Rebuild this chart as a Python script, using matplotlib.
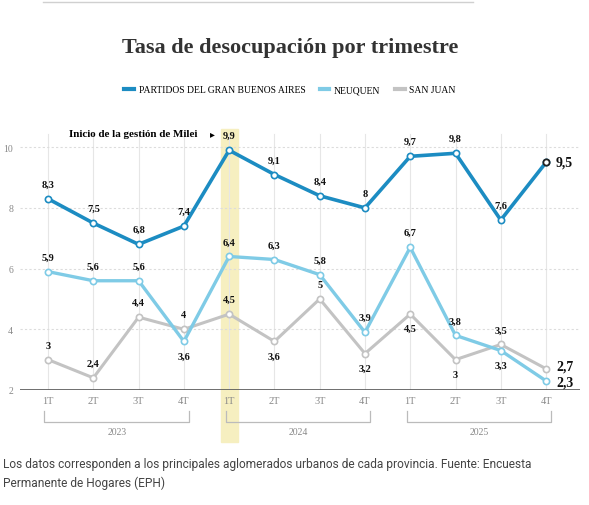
import matplotlib
matplotlib.use("Agg")
import matplotlib.pyplot as plt
from matplotlib.patches import Rectangle

# Data
quarters = ["1T", "2T", "3T", "4T"] * 3
years = ["2023", "2024", "2025"]
gba = [8.3, 7.5, 6.8, 7.4, 9.9, 9.1, 8.4, 8.0, 9.7, 9.8, 7.6, 9.5]
neuquen = [5.9, 5.6, 5.6, 3.6, 6.4, 6.3, 5.8, 3.9, 6.7, 3.8, 3.3, 2.3]
sanjuan = [3.0, 2.4, 4.4, 4.0, 4.5, 3.6, 5.0, 3.2, 4.5, 3.0, 3.5, 2.7]

# label placement: 1 above, -1 below
nq_pos = [1, 1, 1, -1, 1, 1, 1, 1, 1, 1, -1, 1]
sj_pos = [1, 1, 1, 1, 1, -1, 1, -1, -1, -1, 1, 1]

c_gba = "#1c8cc2"
c_nq = "#7fcbe6"
c_sj = "#c3c3c3"
serif = ["Liberation Serif", "DejaVu Serif"]


def fmt(v):
    s = ("%.1f" % v).replace(".", ",")
    return s[:-2] if s.endswith(",0") else s


fig = plt.figure(figsize=(5.89, 5.06), dpi=100)
W, H = 589, 506
ax = fig.add_axes([20 / W, 115 / H, 560 / W, 261 / H])
x = list(range(len(gba)))

ax.set_xlim(-0.62, 11.75)
ax.set_ylim(2, 10.6)

# highlight band for 1T 2024
ax.add_patch(Rectangle((3.81, 0.29), 0.38, 10.3, color="#f6efc0", zorder=0, clip_on=False))

for xi in x:
    ax.plot([xi, xi], [2, 10.45], color="#e6e6e6", lw=0.8, zorder=1)
for yv in [4, 6, 8, 10]:
    ax.plot([-0.62, 11.75], [yv, yv], color="#dcdcdc", lw=0.8, ls=(0, (2, 2)), zorder=1)

ax.plot(x, sanjuan, color=c_sj, lw=2.2, marker="o", ms=4.5, mfc="white", mec=c_sj, mew=1.2, zorder=3)
ax.plot(x, neuquen, color=c_nq, lw=2.4, marker="o", ms=4.5, mfc="white", mec=c_nq, mew=1.2, zorder=4)
ax.plot(x, gba, color=c_gba, lw=2.6, marker="o", ms=4.5, mfc="white", mec=c_gba, mew=1.2, zorder=5)
ax.plot(x[-1], gba[-1], marker="o", ms=4.5, mfc="white", mec="#222222", mew=1.3, zorder=6)

lab = dict(fontsize=7.5, fontweight="bold", family=serif, color="#111111", ha="center", zorder=7)
off = 0.48
for i in range(len(x) - 1):
    ax.text(x[i], gba[i] + off, fmt(gba[i]), va="center", **lab)
    ax.text(x[i], neuquen[i] + off * nq_pos[i], fmt(neuquen[i]), va="center", **lab)
    ax.text(x[i], sanjuan[i] + off * sj_pos[i], fmt(sanjuan[i]), va="center", **lab)

end = dict(fontsize=10, fontweight="bold", family=serif, color="#111111", ha="left", va="center")
ax.text(x[-1] + 0.22, gba[-1], fmt(gba[-1]), **end)
ax.text(x[-1] + 0.22, sanjuan[-1] + 0.1, fmt(sanjuan[-1]), **end)
ax.text(x[-1] + 0.22, neuquen[-1] - 0.05, fmt(neuquen[-1]), **end)

ax.text(3.29, 10.45, "Inicio de la gestión de Milei", fontsize=7.9, fontweight="bold",
        family=serif, ha="right", va="center")
ax.text(3.62, 10.45, "\u25B8", fontsize=7, family=["DejaVu Sans"], ha="center", va="center")

# baseline and ticks
ax.axhline(2, color="#555555", lw=1.2, zorder=2)
for s in ax.spines.values():
    s.set_visible(False)
ax.set_xticks(x)
ax.set_xticklabels(quarters, family=serif, fontsize=7.5, color="#888888")
ax.set_yticks([2, 4, 6, 8, 10])
ax.set_yticklabels(["2", "4", "6", "8", "10"], family=serif, fontsize=7, color="#888888")
ax.tick_params(length=0, pad=4)
ax.tick_params(axis="y", pad=5)

# year brackets
for k, yr in enumerate(years):
    a, b = 4 * k - 0.08, 4 * k + 3.12
    ax.plot([a, a, b, b], [1.31, 0.95, 0.95, 1.31], color="#bbbbbb", lw=0.9, clip_on=False)
    ax.text((a + b) / 2, 0.62, yr, family=serif, fontsize=7, color="#888888", ha="center", va="center")

# title, legend, top rule
fig.add_artist(plt.Line2D([43 / W, 473 / W], [1 - 3 / H, 1 - 3 / H], color="#d0d0d0", lw=1))
fig.text(290 / W, 1 - 48 / H, "Tasa de desocupación por trimestre", family=serif,
         fontweight="bold", fontsize=16, color="#333333", ha="center", va="center")
handles = [plt.Line2D([], [], color=c, lw=3) for c in (c_gba, c_nq, c_sj)]
fig.legend(handles, ["PARTIDOS DEL GRAN BUENOS AIRES", "NEUQUEN", "SAN JUAN"],
           loc="center", bbox_to_anchor=(290 / W, 1 - 91 / H), ncol=3, frameon=False,
           prop={"family": serif, "size": 6.9}, handlelength=1.0, handletextpad=0.5,
           columnspacing=1.5)

fig.text(3 / W, 1 - 474 / H,
         "Los datos corresponden a los principales aglomerados urbanos de cada provincia. Fuente: Encuesta\n"
         "Permanente de Hogares (EPH)", family=["Roboto", "DejaVu Sans"], fontsize=8.6,
         color="#444444", ha="left", va="center", linespacing=1.5)

fig.savefig("out.png", dpi=100)
